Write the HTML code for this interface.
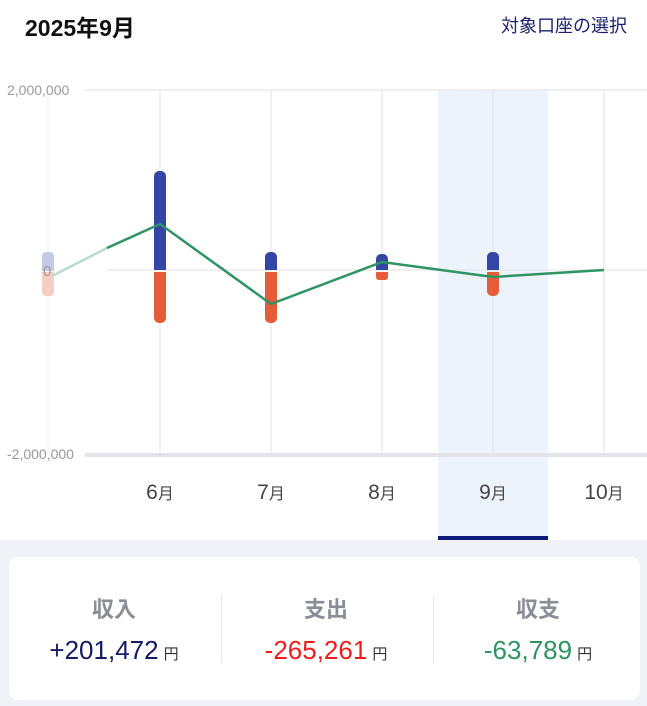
<!DOCTYPE html>
<html><head><meta charset="utf-8"><style>
body{margin:0;width:647px;height:706px;background:#fff;font-family:"Liberation Sans","Noto Sans CJK JP",sans-serif;position:relative;overflow:hidden}
.t{position:absolute;left:25px;top:9px;font-size:23px;font-weight:bold;color:#111}
.r{position:absolute;right:20px;top:12px;font-size:18px;color:#1a1f6e}
.band{position:absolute;left:0;top:540px;width:647px;height:166px;background:#f1f2f7}
.card{position:absolute;left:9px;top:557px;width:631px;height:143px;background:#fff;border-radius:9px}
.col{position:absolute;top:0;width:210px;text-align:center}
.lab{position:absolute;top:35px;width:100%;font-size:22px;font-weight:bold;color:#8a8d96}
.val{position:absolute;top:78px;width:100%;font-size:26px}
.val small{font-size:15px;color:#333;margin-left:5px}
.sep{position:absolute;top:38px;width:1px;height:68px;background:#e3e3e8}
</style></head><body>
<div class="t">2025年9月</div>
<div class="r">対象口座の選択</div>
<svg width="647" height="545" style="position:absolute;left:0;top:0" font-family="Liberation Sans, Noto Sans CJK JP, sans-serif">
<rect x="438" y="90" width="110" height="450" fill="#edf3fa"/>
<g stroke="#e6e6ea" stroke-width="1.2">
<line x1="85" y1="90" x2="647" y2="90"/>
<line x1="48" y1="90" x2="48" y2="455" stroke="#f0f0f3"/>
<line x1="160" y1="90" x2="160" y2="455"/><line x1="271" y1="90" x2="271" y2="455"/>
<line x1="382" y1="90" x2="382" y2="455"/><line x1="493" y1="90" x2="493" y2="455"/>
<line x1="604" y1="90" x2="604" y2="455"/>
<line x1="107" y1="270" x2="647" y2="270"/>
</g>
<line x1="85" y1="455" x2="647" y2="455" stroke="#e3e3e8" stroke-width="4"/>
<text x="7" y="95" font-size="14" fill="#999">2,000,000</text>
<text x="7" y="459" font-size="14" fill="#999">-2,000,000</text>
<g>
<rect x="42" y="252" width="12" height="19" rx="4" fill="#c5c9e6"/><rect x="42" y="262" width="12" height="9" fill="#c5c9e6"/>
<rect x="42" y="272" width="12" height="24" rx="4" fill="#f6cdc3"/><rect x="42" y="272" width="12" height="10" fill="#f6cdc3"/>
<text x="43" y="276" font-size="15" fill="#999">0</text>
<rect x="154" y="171" width="12" height="99" rx="5" fill="#3346a6"/><rect x="154" y="240" width="12" height="30" fill="#3346a6"/>
<rect x="154" y="272" width="12" height="51" rx="5" fill="#e45d38"/><rect x="154" y="272" width="12" height="20" fill="#e45d38"/>
<rect x="265" y="252" width="12" height="18" rx="5" fill="#3346a6"/><rect x="265" y="262" width="12" height="8" fill="#3346a6"/>
<rect x="265" y="272" width="12" height="51" rx="5" fill="#e45d38"/><rect x="265" y="272" width="12" height="20" fill="#e45d38"/>
<rect x="376" y="254" width="12" height="16" rx="5" fill="#3346a6"/><rect x="376" y="262" width="12" height="8" fill="#3346a6"/>
<rect x="376" y="272" width="12" height="8" rx="3" fill="#e45d38"/><rect x="376" y="272" width="12" height="4" fill="#e45d38"/>
<rect x="487" y="252" width="12" height="18" rx="5" fill="#3346a6"/><rect x="487" y="262" width="12" height="8" fill="#3346a6"/>
<rect x="487" y="272" width="12" height="24" rx="5" fill="#e45d38"/><rect x="487" y="272" width="12" height="10" fill="#e45d38"/>
</g>
<polyline points="52,276 107,248" fill="none" stroke="#b8dcc8" stroke-width="2.5"/>
<polyline points="107,248 160,224 271,304 382,262 493,277 604,270" fill="none" stroke="#2e9462" stroke-width="2.5"/>
<g font-size="21" fill="#444" text-anchor="middle">
<text x="160" y="499">6<tspan font-size="16">月</tspan></text>
<text x="271" y="499">7<tspan font-size="16">月</tspan></text>
<text x="382" y="499">8<tspan font-size="16">月</tspan></text>
<text x="493" y="499">9<tspan font-size="16">月</tspan></text>
<text x="604" y="499">10<tspan font-size="16">月</tspan></text>
</g>
<rect x="438" y="536" width="110" height="4" fill="#0d1a7a"/>
</svg>
<div class="band"></div>
<div class="card">
<div class="col" style="left:0"><div class="lab">収入</div><div class="val" style="color:#141a66">+201,472<small>円</small></div></div>
<div class="sep" style="left:212px"></div>
<div class="col" style="left:212px"><div class="lab">支出</div><div class="val" style="color:#f01c1c">-265,261<small>円</small></div></div>
<div class="sep" style="left:424px"></div>
<div class="col" style="left:424px"><div class="lab">収支</div><div class="val" style="color:#2e9462">-63,789<small>円</small></div></div>
</div>
</body></html>
